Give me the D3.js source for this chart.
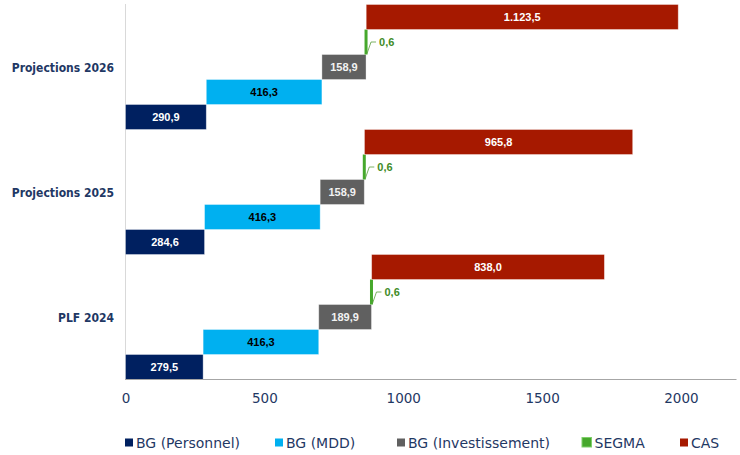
<!DOCTYPE html>
<html><head><meta charset="utf-8">
<script src="https://cdn.jsdelivr.net/npm/d3@7"></script>
<style>body{margin:0;background:#fff}svg{display:block}</style>
</head><body><svg id="c" width="740" height="455"></svg>
<script>
// ---- data ----
const categories = ["Projections 2026", "Projections 2025", "PLF 2024"];
const seriesNames = ["BG (Personnel)", "BG (MDD)", "BG (Investissement)", "SEGMA", "CAS"];
const personnel = [290.9, 284.6, 279.5];
const mdd = [416.3, 416.3, 416.3];
const investissement = [158.9, 158.9, 189.9];
const segma = [0.6, 0.6, 0.6];
const cas = [1123.5, 965.8, 838.0];
const xTicks = [0, 500, 1000, 1500, 2000];

// ---- styles ----
const colors = ["#002060", "#00b0f0", "#606060", "#46a82c", "#a61900"];
const labelColors = ["#ffffff", "#000000", "#f2f2f2", "#3f8c28", "#ffffff"];
const values = [personnel, mdd, investissement, segma, cas];

const svg = d3.select("#c");
const x = d3.scaleLinear().domain([0, 2200]).range([125.5, 736.5]);
const yG = d3.scaleBand().domain(categories).range([4.5, 379.5]).padding(0);
const yS = d3.scaleBand().domain(seriesNames.slice().reverse()).range([0, yG.bandwidth()]).padding(0);

const loc = d3.formatLocale({decimal: ",", thousands: ".", grouping: [3], currency: ["", ""]});
const fmt = loc.format(",.1f");

// left baseline
svg.append("line").attr("x1", 125.5).attr("x2", 125.5).attr("y1", 4).attr("y2", 379.5)
  .attr("stroke", "#d9d9d9").attr("stroke-width", 1);

// build records
const recs = [];
categories.forEach((c, ci) => {
  let cum = 0;
  seriesNames.forEach((s, si) => {
    const v = values[si][ci];
    recs.push({cat: c, s, si, start: cum, end: cum + v, v});
    cum += v;
  });
});

const g = svg.append("g");
recs.forEach(r => {
  const y0 = yG(r.cat) + yS(r.s);
  const h = yS.bandwidth();
  if (r.s === "SEGMA") {
    const xs = x(r.start);
    g.append("rect").attr("x", xs - 1.5).attr("y", y0).attr("width", 3).attr("height", h)
      .attr("fill", colors[r.si]);
    const ym = y0 + h / 2;
    g.append("path").attr("d", `M${xs + 1},${y0 + h - 1} L${xs + 5},${ym} L${xs + 10},${ym}`)
      .attr("fill", "none").attr("stroke", "#5a9e3c").attr("stroke-width", 0.8);
    g.append("text").attr("x", xs + 13).attr("y", ym + 4)
      .attr("font-family", "Liberation Sans, Arial, sans-serif").attr("font-weight", "bold")
      .attr("font-size", 11).attr("fill", labelColors[r.si]).text(fmt(r.v));
  } else {
    g.append("rect").attr("x", x(r.start)).attr("y", y0)
      .attr("width", x(r.end) - x(r.start)).attr("height", h)
      .attr("fill", colors[r.si]).attr("stroke", "rgba(255,255,255,0.45)").attr("stroke-width", 0.8);
    g.append("text").attr("x", (x(r.start) + x(r.end)) / 2).attr("y", y0 + h / 2 + 4)
      .attr("text-anchor", "middle")
      .attr("font-family", "Liberation Sans, Arial, sans-serif").attr("font-weight", "bold")
      .attr("font-size", 11).attr("fill", labelColors[r.si]).text(fmt(r.v));
  }
});

// x axis
const ax = svg.append("g").attr("transform", "translate(0,379.5)")
  .call(d3.axisBottom(x).tickValues(xTicks).tickSize(0).tickPadding(0).tickFormat(d3.format("d")));
ax.select(".domain").attr("stroke", "#a6a6a6").attr("stroke-width", 1.2).attr("d", "M125,0H736.5");
ax.selectAll("text").attr("dy", null).attr("y", 23)
  .attr("font-family", "DejaVu Sans, Verdana, sans-serif").attr("font-size", 13.5).attr("fill", "#1f3864");

// category labels
svg.append("g").selectAll("text").data(categories).join("text")
  .attr("x", 114).attr("y", d => yG(d) + yG.bandwidth() / 2 + 4.5)
  .attr("text-anchor", "end")
  .attr("font-family", "DejaVu Sans Condensed, DejaVu Sans, sans-serif").attr("font-weight", "bold")
  .attr("font-stretch", "condensed")
  .attr("font-size", 12).attr("fill", "#1f3864").text(d => d);

// legend
const legX = [125, 275, 397, 582, 680];
const leg = svg.append("g");
seriesNames.forEach((s, i) => {
  const big = s === "SEGMA";
  const sz = big ? 9.5 : 8;
  leg.append("rect").attr("x", legX[i]).attr("y", big ? 437.5 : 438.5).attr("width", sz).attr("height", sz)
    .attr("fill", colors[i]).attr("stroke", big ? "#7fcf6a" : "none").attr("stroke-width", big ? 1 : 0);
  leg.append("text").attr("x", legX[i] + sz + 3).attr("y", 448)
    .attr("font-family", "DejaVu Sans, Verdana, sans-serif").attr("font-size", 14)
    .attr("fill", "#1f3864").text(s);
});
</script></body></html>
